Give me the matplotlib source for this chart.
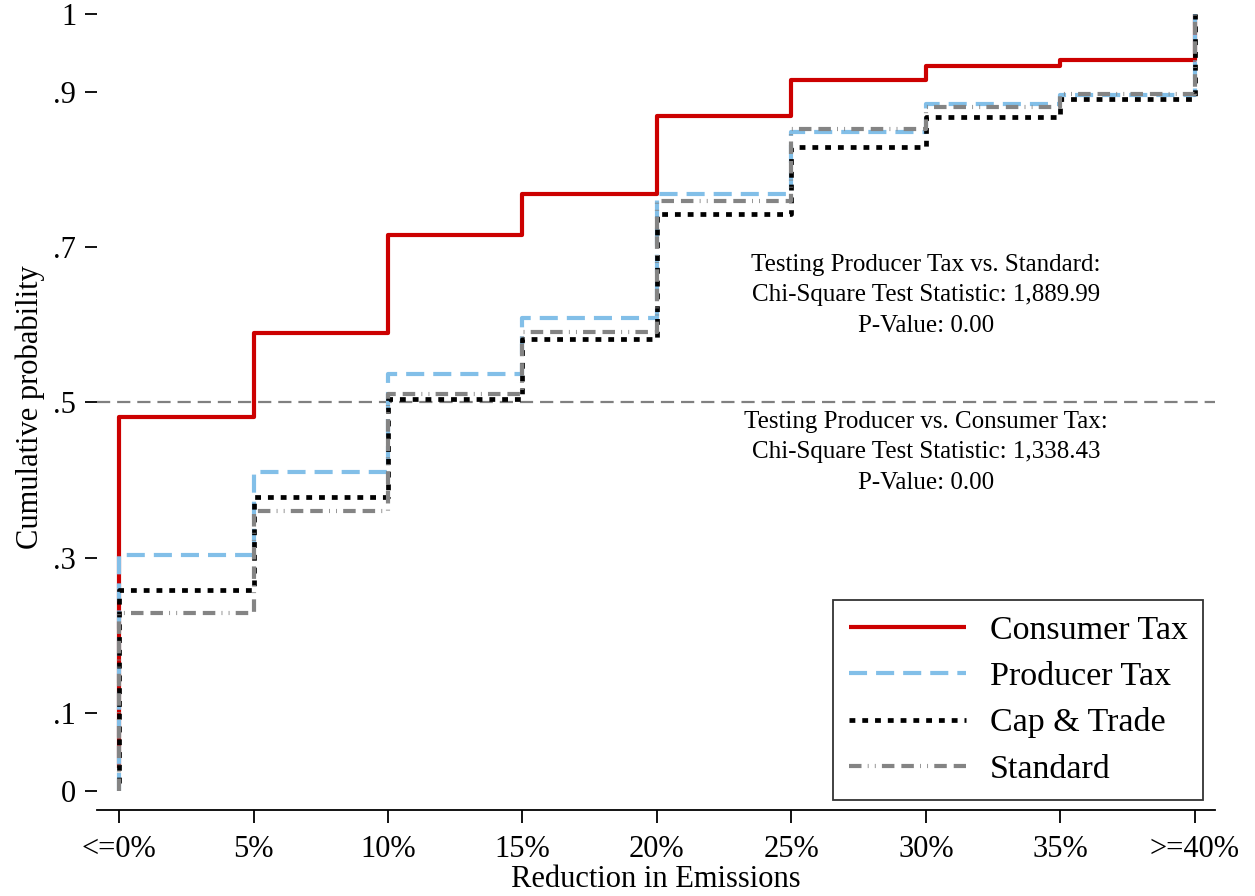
import matplotlib
matplotlib.use("Agg")
import matplotlib.pyplot as plt

plt.rcParams['font.family'] = ['Liberation Serif', 'DejaVu Serif']
plt.rcParams['lines.scale_dashes'] = False

# Reduction-in-emissions bins (x positions 0..8)
bins = ["<=0%", "5%", "10%", "15%", "20%", "25%", "30%", "35%", ">=40%"]

# Cumulative probability at the start of the lowest bin, then at each bin 0..7
consumer_start = 0.03
consumer_tax = [0.481, 0.589, 0.716, 0.768, 0.869, 0.915, 0.933, 0.941]
producer_start = 0.0
producer_tax = [0.304, 0.411, 0.537, 0.609, 0.768, 0.848, 0.884, 0.896]
cap_start = 0.01
cap_trade = [0.259, 0.378, 0.504, 0.582, 0.743, 0.829, 0.867, 0.891]
standard_start = 0.0
standard = [0.229, 0.360, 0.511, 0.591, 0.759, 0.852, 0.880, 0.897]
final_value = 1.0

yticks = [0, 0.1, 0.3, 0.5, 0.7, 0.9, 1]
ytick_labels = ["0", ".1", ".3", ".5", ".7", ".9", "1"]

note_top = ["Testing Producer Tax vs. Standard:",
            "Chi-Square Test Statistic: 1,889.99",
            "P-Value: 0.00"]
note_bottom = ["Testing Producer vs. Consumer Tax:",
               "Chi-Square Test Statistic: 1,338.43",
               "P-Value: 0.00"]

fig = plt.figure(figsize=(12.55, 8.96), dpi=100)
ax = fig.add_axes([0.0773, 0.0960, 0.8907, 0.8984])

# reference line at the median
ax.axhline(0.5, color="#808080", lw=1.6, linestyle=(0, (9.5, 5.0)), zorder=1)

def step_series(start, vals):
    xs = [0] + list(range(len(vals))) + [len(vals)]
    ys = [start] + list(vals) + [final_value]
    return xs, ys

series = [
    ("Consumer Tax", consumer_start, consumer_tax, dict(color="#cc0000", lw=3.0, linestyle="-")),
    ("Producer Tax", producer_start, producer_tax, dict(color="#82bfe8", lw=3.0, linestyle=(0, (13, 6.5)))),
    ("Cap & Trade", cap_start, cap_trade, dict(color="#000000", lw=3.4, linestyle=(0, (4.2, 5.0)))),
    ("Standard", standard_start, standard, dict(color="#848484", lw=3.0,
                                                 linestyle=(0, (9, 4.5, 0.6, 4.5, 0.6, 4.5, 9, 5)))),
]

handles = []
for i, (name, st, vals, style) in enumerate(series):
    xs, ys = step_series(st, vals)
    line, = ax.plot(xs, ys, drawstyle="steps-post", solid_capstyle="butt",
                    dash_capstyle="butt", zorder=2 + i, label=name, **style)
    handles.append(line)

ax.set_xlim(-0.164, 8.149)
ax.set_ylim(-0.0245, 1.0116)

ax.set_xticks(range(len(bins)))
ax.set_xticklabels(bins)
ax.set_yticks(yticks)
ax.set_yticklabels(ytick_labels)
ax.tick_params(axis="both", labelsize=22, width=1.3, length=9, color="black")
ax.tick_params(axis="x", pad=9)
ax.tick_params(axis="y", pad=6)

for side in ["top", "right", "left"]:
    ax.spines[side].set_visible(False)
ax.spines["bottom"].set_linewidth(1.3)

ax.set_xlabel("Reduction in Emissions", fontsize=22, labelpad=1)
ax.set_ylabel("Cumulative probability", fontsize=22, labelpad=6)

ax.text(6.0, 0.638, "\n".join(note_top), ha="center", va="center",
        fontsize=18, linespacing=1.5)
ax.text(6.0, 0.436, "\n".join(note_bottom), ha="center", va="center",
        fontsize=18, linespacing=1.5)

leg = ax.legend(handles=handles, loc="lower right", bbox_to_anchor=(0.9896, 0.0125),
                fontsize=24.5, frameon=True, fancybox=False, edgecolor="black",
                handlelength=3.45, handletextpad=0.7, borderpad=0.45,
                labelspacing=0.45, borderaxespad=0.0)
leg.get_frame().set_linewidth(1.3)

fig.savefig("out.png", dpi=100)
